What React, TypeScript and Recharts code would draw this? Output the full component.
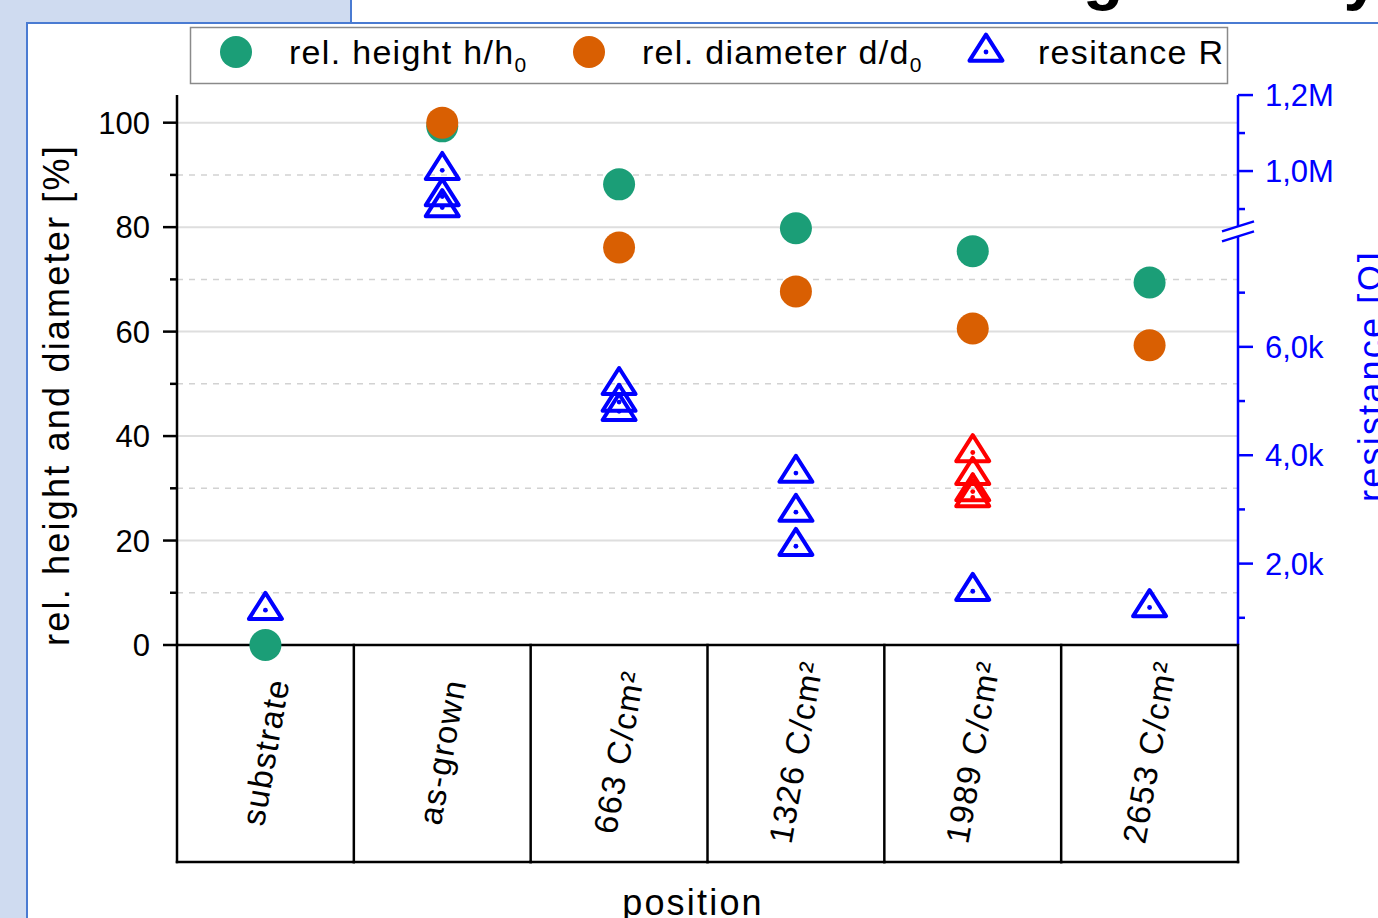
import React from 'react';
import { ComposedChart, Scatter, XAxis, YAxis, ReferenceLine, ReferenceDot, Label } from 'recharts';

// ---------- data ----------
const categories = ['substrate', 'as-grown', '663 C/cm²', '1326 C/cm²', '1989 C/cm²', '2653 C/cm²'];
const relHeight = [0, 99.3, 88.2, 79.8, 75.4, 69.4];
const relDiameter: (number | null)[] = [null, 100, 76.1, 67.7, 60.6, 57.4];
const resistancePos = [0, 1, 1, 1, 2, 2, 2, 3, 3, 3, 4, 5];
const resistanceOhm = [1140, 1002000, 933000, 904000, 5290, 4980, 4810, 3670, 2950, 2320, 1490, 1190];
const resistanceRedPos = [4, 4, 4, 4];
const resistanceRedOhm = [4050, 3630, 3330, 3220];

const leftTicks = [0, 10, 20, 30, 40, 50, 60, 70, 80, 90, 100];
const leftMajor = [0, 20, 40, 60, 80, 100];
const rightMajorOhm = [2000, 4000, 6000, 1000000, 1200000];
const rightMajorLabels = ['2,0k', '4,0k', '6,0k', '1,0M', '1,2M'];
const rightMinorOhm = [1000, 3000, 5000, 7000, 900000, 1100000];

// broken right axis (lower segment in kΩ, upper segment in MΩ) mapped onto display units
const LOW_MIN_K = 0.498;
const LOW_UNITS_PER_K = 10.375;
const UP_BASE_U = 90.74;
const UP_UNITS_PER_M = 72.74;
const LOW_TOP_OHM = 8000;
const UP_BOTTOM_OHM = 860000;
const rToAxis = (r: number) =>
  r < 100000 ? (r / 1000 - LOW_MIN_K) * LOW_UNITS_PER_K : UP_BASE_U + (r / 1e6 - 1) * UP_UNITS_PER_M;
const BREAK_U = (rToAxis(LOW_TOP_OHM) + rToAxis(UP_BOTTOM_OHM)) / 2;

// ---------- layout ----------
const W = 1378;
const H = 918;
const LEFT_W = 177;
const RIGHT_W = 140;
const TOP = 95;
const TABLE_H = 217;
const BOTTOM_M = 56;
const PLOT_W = W - LEFT_W - RIGHT_W;
const BAND = PLOT_W / categories.length;
const FONT = 'Liberation Sans, Arial, Helvetica, sans-serif';
const GREEN = '#1b9e77';
const ORANGE = '#d95f02';
const BLUE = '#0000ff';
const RED = '#ff0000';
const FRAME = '#4a7bd2';

const triPath = (cx: number, cy: number, w = 33, h = 26) =>
  `M${cx},${cy - (2 * h) / 3} L${cx + w / 2},${cy + h / 3} L${cx - w / 2},${cy + h / 3} Z`;

const circleShape = (color: string) => (p: any) =>
  p.cx == null ? <g /> : <circle cx={p.cx} cy={p.cy} r={16} fill={color} />;

const triShape = (color: string) => (p: any) =>
  p.cx == null ? (
    <g />
  ) : (
    <g>
      <path d={triPath(p.cx, p.cy)} fill="none" stroke={color} strokeWidth={4} strokeLinejoin="round" />
      <circle cx={p.cx} cy={p.cy} r={2.4} fill={color} />
    </g>
  );

const CategoryTick = (props: any) => {
  const { x, y, payload } = props;
  const i = payload.value as number;
  const half = BAND / 2;
  const cy = y + 107;
  return (
    <g>
      <line x1={x - half} y1={y} x2={x - half} y2={y + TABLE_H} stroke="#000" strokeWidth={2.5} strokeLinecap="square" />
      {i === categories.length - 1 && (
        <line x1={x + half} y1={y} x2={x + half} y2={y + TABLE_H} stroke="#000" strokeWidth={2.5} strokeLinecap="square" />
      )}
      <line x1={x - half} y1={y + TABLE_H} x2={x + half} y2={y + TABLE_H} stroke="#000" strokeWidth={2.5} strokeLinecap="square" />
      <text
        x={x}
        y={cy}
        transform={`rotate(-80 ${x} ${cy})`}
        textAnchor="middle"
        dominantBaseline="central"
        fontSize={33}
        letterSpacing={1.4}
        fontFamily={FONT}
        fill="#000"
      >
        {categories[i]}
      </text>
    </g>
  );
};

const LeftTick = (props: any) => {
  const { x, y, payload } = props;
  const major = leftMajor.includes(payload.value);
  return (
    <g>
      <line x1={x - (major ? 14 : 7)} y1={y} x2={x} y2={y} stroke="#000" strokeWidth={2.5} />
      {major && (
        <text x={x - 27} y={y} dy="0.36em" textAnchor="end" fontSize={31} fontFamily={FONT} fill="#000">
          {payload.value}
        </text>
      )}
    </g>
  );
};

const rightMajorU = rightMajorOhm.map(rToAxis);
const rightMinorU = rightMinorOhm.map(rToAxis);

const RightTick = (props: any) => {
  const { x, y, payload } = props;
  const idx = rightMajorU.findIndex((u) => Math.abs(u - payload.value) < 1e-6);
  const major = idx >= 0;
  return (
    <g>
      <line x1={x} y1={y} x2={x + (major ? 15 : 7)} y2={y} stroke={BLUE} strokeWidth={2.5} />
      {major && (
        <text x={x + 27} y={y} dy="0.36em" textAnchor="start" fontSize={31} fontFamily={FONT} fill={BLUE}>
          {rightMajorLabels[idx]}
        </text>
      )}
    </g>
  );
};

const BreakMark = (p: any) => {
  const { cx, cy } = p;
  if (cx == null) return <g />;
  const g = 5;
  return (
    <g>
      <polygon
        points={`${cx - 6},${cy + 2 + g} ${cx + 6},${cy - 2 + g} ${cx + 6},${cy - 2 - g} ${cx - 6},${cy + 2 - g}`}
        fill="#fff"
      />
      <line x1={cx - 16} y1={cy + 5 - g} x2={cx + 16} y2={cy - 5 - g} stroke={BLUE} strokeWidth={2.5} />
      <line x1={cx - 16} y1={cy + 5 + g} x2={cx + 16} y2={cy - 5 + g} stroke={BLUE} strokeWidth={2.5} />
    </g>
  );
};

export default function App() {
  const heightData = relHeight.map((v, i) => ({ x: i, y: v }));
  const diamData = relDiameter
    .map((v, i) => (v == null ? null : { x: i, y: v }))
    .filter((d) => d !== null) as { x: number; y: number }[];
  const resData = resistancePos.map((p, i) => ({ x: p, y: rToAxis(resistanceOhm[i]) }));
  const resRedData = resistanceRedPos.map((p, i) => ({ x: p, y: rToAxis(resistanceRedOhm[i]) }));
  const rightTicks = [...rightMinorU, ...rightMajorU].sort((a, b) => a - b);

  return (
    <div style={{ position: 'absolute', left: 0, top: 0, width: W, height: H, overflow: 'hidden', background: '#cfdbf0' }}>
      {/* white panel */}
      <div
        style={{
          position: 'absolute',
          left: 26,
          top: 22,
          width: W - 26,
          height: H - 22,
          background: '#fff',
          borderLeft: `2px solid ${FRAME}`,
          borderTop: `2px solid ${FRAME}`,
          boxSizing: 'border-box',
        }}
      />
      <div
        style={{
          position: 'absolute',
          left: 350,
          top: 0,
          width: W - 350,
          height: 22,
          background: '#fff',
          borderLeft: `2px solid ${FRAME}`,
          boxSizing: 'border-box',
        }}
      />
      <div style={{ position: 'absolute', left: 0, top: 0 }}>
        <ComposedChart width={W} height={H} margin={{ top: TOP, right: 0, bottom: BOTTOM_M, left: 0 }}>
          <XAxis
            xAxisId="x"
            type="number"
            dataKey="x"
            domain={[-0.5, categories.length - 0.5]}
            ticks={categories.map((_, i) => i)}
            interval={0}
            height={TABLE_H}
            tickSize={0}
            tickMargin={0}
            tickLine={false}
            tick={<CategoryTick />}
            axisLine={{ stroke: '#000', strokeWidth: 2.5 }}
          >
            <Label
              content={() => (
                <text x={693} y={915} textAnchor="middle" fontSize={36} letterSpacing={2.2} fontFamily={FONT} fill="#000">
                  position
                </text>
              )}
            />
          </XAxis>
          <YAxis
            yAxisId="l"
            type="number"
            dataKey="y"
            domain={[0, 105.3]}
            ticks={leftTicks}
            interval={0}
            width={LEFT_W}
            tickSize={0}
            tickMargin={0}
            tickLine={false}
            tick={<LeftTick />}
            axisLine={{ stroke: '#000', strokeWidth: 2.5 }}
          >
            <Label
              content={() => (
                <text
                  x={69}
                  y={395}
                  transform="rotate(-90 69 395)"
                  textAnchor="middle"
                  fontSize={36}
                  letterSpacing={2.2}
                  fontFamily={FONT}
                  fill="#000"
                >
                  rel. height and diameter [%]
                </text>
              )}
            />
          </YAxis>
          <YAxis
            yAxisId="r"
            orientation="right"
            type="number"
            dataKey="y"
            domain={[0, 105.3]}
            ticks={rightTicks}
            interval={0}
            width={RIGHT_W}
            tickSize={0}
            tickMargin={0}
            tickLine={false}
            tick={<RightTick />}
            axisLine={{ stroke: BLUE, strokeWidth: 2.5 }}
          >
            <Label
              content={() => (
                <text
                  x={1384}
                  y={376}
                  transform="rotate(-90 1384 376)"
                  textAnchor="middle"
                  fontSize={36}
                  letterSpacing={2.2}
                  fontFamily={FONT}
                  fill={BLUE}
                >
                  resistance [Ω]
                </text>
              )}
            />
          </YAxis>

          {leftTicks
            .filter((v) => v > 0)
            .map((v) =>
              leftMajor.includes(v) ? (
                <ReferenceLine key={v} xAxisId="x" yAxisId="l" y={v} stroke="#dedede" strokeWidth={2} />
              ) : (
                <ReferenceLine key={v} xAxisId="x" yAxisId="l" y={v} stroke="#d2d2d2" strokeWidth={1.5} strokeDasharray="6 6" />
              )
            )}

          <ReferenceDot xAxisId="x" yAxisId="r" x={categories.length - 0.5} y={BREAK_U} r={1} ifOverflow="visible" shape={BreakMark} />

          <Scatter xAxisId="x" yAxisId="l" data={heightData} isAnimationActive={false} shape={circleShape(GREEN)} />
          <Scatter xAxisId="x" yAxisId="l" data={diamData} isAnimationActive={false} shape={circleShape(ORANGE)} />
          <Scatter xAxisId="x" yAxisId="r" data={resData} isAnimationActive={false} shape={triShape(BLUE)} />
          <Scatter xAxisId="x" yAxisId="r" data={resRedData} isAnimationActive={false} shape={triShape(RED)} />
        </ComposedChart>
      </div>

      {/* legend and cut title */}
      <svg width={W} height={100} style={{ position: 'absolute', left: 0, top: 0, overflow: 'visible' }}>
        <text x={1083} y={-3} fontSize={66} fontWeight="bold" fontFamily={FONT} fill="#000">
          geometry
        </text>
        <rect x={190.5} y={27.5} width={1037} height={56} fill="#fff" stroke="#8a8a8a" strokeWidth={1.5} />
        <circle cx={236} cy={52} r={16} fill={GREEN} />
        <text x={289} y={64} fontSize={34} letterSpacing={1.3} fontFamily={FONT} fill="#000">
          rel. height h/h<tspan fontSize={21} dy={8}>0</tspan>
        </text>
        <circle cx={589} cy={52} r={16} fill={ORANGE} />
        <text x={642} y={64} fontSize={34} letterSpacing={1.3} fontFamily={FONT} fill="#000">
          rel. diameter d/d<tspan fontSize={21} dy={8}>0</tspan>
        </text>
        <path d={triPath(986, 52)} fill="none" stroke={BLUE} strokeWidth={4} strokeLinejoin="round" />
        <circle cx={986} cy={52} r={2.4} fill={BLUE} />
        <text x={1038} y={64} fontSize={34} letterSpacing={1.3} fontFamily={FONT} fill="#000">
          resitance R
        </text>
      </svg>
    </div>
  );
}
